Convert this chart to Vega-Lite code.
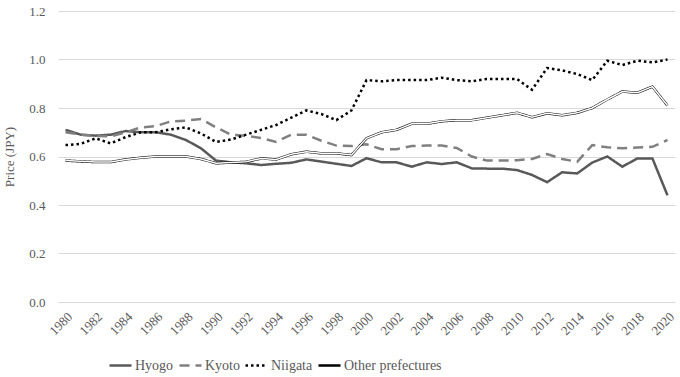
{
  "$schema": "https://vega.github.io/schema/vega-lite/v6.json",
  "autosize": {"type": "none"},
  "padding": {"left": 58, "top": 11, "right": 5, "bottom": 75},
  "width": 617,
  "height": 291,
  "background": "white",
  "config": {
    "view": {"stroke": null},
    "font": "Liberation Serif",
    "text": {"font": "Liberation Serif"},
    "axis": {"labelFont": "Liberation Serif", "titleFont": "Liberation Serif", "labelColor": "#595959", "titleColor": "#595959", "labelFontSize": 13, "titleFontSize": 13, "titleFontWeight": "normal"},
    "legend": {"labelFont": "Liberation Serif", "labelFontSize": 14, "labelColor": "#595959"}
  },
  "data": {"values": [
    {"year": 1980, "Hyogo": 0.71, "Kyoto": 0.70, "Niigata": 0.647, "Other prefectures": 0.583},
    {"year": 1981, "Hyogo": 0.69, "Kyoto": 0.69, "Niigata": 0.652, "Other prefectures": 0.58},
    {"year": 1982, "Hyogo": 0.686, "Kyoto": 0.685, "Niigata": 0.675, "Other prefectures": 0.577},
    {"year": 1983, "Hyogo": 0.69, "Kyoto": 0.683, "Niigata": 0.654, "Other prefectures": 0.577},
    {"year": 1984, "Hyogo": 0.705, "Kyoto": 0.70, "Niigata": 0.68, "Other prefectures": 0.588},
    {"year": 1985, "Hyogo": 0.70, "Kyoto": 0.72, "Niigata": 0.70, "Other prefectures": 0.595},
    {"year": 1986, "Hyogo": 0.70, "Kyoto": 0.725, "Niigata": 0.70, "Other prefectures": 0.60},
    {"year": 1987, "Hyogo": 0.69, "Kyoto": 0.745, "Niigata": 0.712, "Other prefectures": 0.60},
    {"year": 1988, "Hyogo": 0.668, "Kyoto": 0.748, "Niigata": 0.72, "Other prefectures": 0.60},
    {"year": 1989, "Hyogo": 0.634, "Kyoto": 0.755, "Niigata": 0.695, "Other prefectures": 0.59},
    {"year": 1990, "Hyogo": 0.583, "Kyoto": 0.72, "Niigata": 0.66, "Other prefectures": 0.572},
    {"year": 1991, "Hyogo": 0.576, "Kyoto": 0.69, "Niigata": 0.67, "Other prefectures": 0.575},
    {"year": 1992, "Hyogo": 0.572, "Kyoto": 0.685, "Niigata": 0.69, "Other prefectures": 0.578},
    {"year": 1993, "Hyogo": 0.565, "Kyoto": 0.676, "Niigata": 0.71, "Other prefectures": 0.592},
    {"year": 1994, "Hyogo": 0.57, "Kyoto": 0.66, "Niigata": 0.73, "Other prefectures": 0.588},
    {"year": 1995, "Hyogo": 0.574, "Kyoto": 0.69, "Niigata": 0.76, "Other prefectures": 0.609},
    {"year": 1996, "Hyogo": 0.588, "Kyoto": 0.69, "Niigata": 0.79, "Other prefectures": 0.62},
    {"year": 1997, "Hyogo": 0.579, "Kyoto": 0.665, "Niigata": 0.775, "Other prefectures": 0.613},
    {"year": 1998, "Hyogo": 0.57, "Kyoto": 0.645, "Niigata": 0.75, "Other prefectures": 0.613},
    {"year": 1999, "Hyogo": 0.561, "Kyoto": 0.643, "Niigata": 0.79, "Other prefectures": 0.606},
    {"year": 2000, "Hyogo": 0.593, "Kyoto": 0.65, "Niigata": 0.915, "Other prefectures": 0.675},
    {"year": 2001, "Hyogo": 0.576, "Kyoto": 0.63, "Niigata": 0.91, "Other prefectures": 0.70},
    {"year": 2002, "Hyogo": 0.576, "Kyoto": 0.63, "Niigata": 0.915, "Other prefectures": 0.71},
    {"year": 2003, "Hyogo": 0.558, "Kyoto": 0.643, "Niigata": 0.915, "Other prefectures": 0.735},
    {"year": 2004, "Hyogo": 0.576, "Kyoto": 0.645, "Niigata": 0.915, "Other prefectures": 0.735},
    {"year": 2005, "Hyogo": 0.569, "Kyoto": 0.645, "Niigata": 0.925, "Other prefectures": 0.745},
    {"year": 2006, "Hyogo": 0.576, "Kyoto": 0.635, "Niigata": 0.915, "Other prefectures": 0.75},
    {"year": 2007, "Hyogo": 0.551, "Kyoto": 0.60, "Niigata": 0.91, "Other prefectures": 0.75},
    {"year": 2008, "Hyogo": 0.55, "Kyoto": 0.583, "Niigata": 0.92, "Other prefectures": 0.76},
    {"year": 2009, "Hyogo": 0.55, "Kyoto": 0.583, "Niigata": 0.92, "Other prefectures": 0.77},
    {"year": 2010, "Hyogo": 0.544, "Kyoto": 0.585, "Niigata": 0.92, "Other prefectures": 0.78},
    {"year": 2011, "Hyogo": 0.524, "Kyoto": 0.59, "Niigata": 0.875, "Other prefectures": 0.762},
    {"year": 2012, "Hyogo": 0.494, "Kyoto": 0.61, "Niigata": 0.965, "Other prefectures": 0.778},
    {"year": 2013, "Hyogo": 0.535, "Kyoto": 0.59, "Niigata": 0.955, "Other prefectures": 0.77},
    {"year": 2014, "Hyogo": 0.53, "Kyoto": 0.578, "Niigata": 0.94, "Other prefectures": 0.78},
    {"year": 2015, "Hyogo": 0.575, "Kyoto": 0.647, "Niigata": 0.915, "Other prefectures": 0.80},
    {"year": 2016, "Hyogo": 0.60, "Kyoto": 0.638, "Niigata": 0.995, "Other prefectures": 0.835},
    {"year": 2017, "Hyogo": 0.558, "Kyoto": 0.634, "Niigata": 0.977, "Other prefectures": 0.868},
    {"year": 2018, "Hyogo": 0.592, "Kyoto": 0.637, "Niigata": 0.995, "Other prefectures": 0.863},
    {"year": 2019, "Hyogo": 0.592, "Kyoto": 0.64, "Niigata": 0.988, "Other prefectures": 0.888},
    {"year": 2020, "Hyogo": 0.44, "Kyoto": 0.668, "Niigata": 1.0, "Other prefectures": 0.81}
  ]},
  "transform": [{"fold": ["Hyogo", "Kyoto", "Niigata", "Other prefectures"], "as": ["series", "price"]}],
  "encoding": {
    "x": {"field": "year", "type": "ordinal", "title": null,
      "axis": {"values": [1980,1982,1984,1986,1988,1990,1992,1994,1996,1998,2000,2002,2004,2006,2008,2010,2012,2014,2016,2018,2020], "labelAngle": -45, "domain": false, "ticks": false, "labelPadding": 8, "labelFont": "Liberation Serif", "labelFontSize": 13}},
    "y": {"field": "price", "type": "quantitative", "title": "Price (JPY)",
      "scale": {"domain": [0, 1.2], "nice": false},
      "axis": {"values": [0, 0.2, 0.4, 0.6, 0.8, 1.0, 1.2], "format": ".1f", "domain": false, "ticks": false, "grid": true, "gridColor": "#d9d9d9", "gridWidth": 1, "labelPadding": 13, "titlePadding": 12, "labelFont": "Liberation Serif", "titleFont": "Liberation Serif", "labelFontSize": 13}}
  },
  "layer": [
    {
      "mark": {"type": "line", "strokeCap": "butt"},
      "encoding": {
        "color": {"field": "series", "type": "nominal", "scale": {"domain": ["Hyogo", "Kyoto", "Niigata", "Other prefectures"], "range": ["#595959", "#808080", "#000000", "#000000"]},
          "legend": {"title": null, "orient": "none", "legendX": 50, "legendY": 342, "direction": "horizontal", "gridAlign": "none", "symbolType": "stroke", "symbolSize": 484, "columnPadding": 0, "labelOffset": 2, "labelFont": "Liberation Serif", "labelFontSize": 14}},
        "strokeDash": {"field": "series", "type": "nominal", "scale": {"domain": ["Hyogo", "Kyoto", "Niigata", "Other prefectures"], "range": [[1, 0], [10, 6], [2.5, 3], [1, 0]]}},
        "strokeWidth": {"field": "series", "type": "nominal", "scale": {"domain": ["Hyogo", "Kyoto", "Niigata", "Other prefectures"], "range": [2.5, 2.5, 2.5, 4.5]}}
      }
    },
    {
      "transform": [{"filter": "datum.series === 'Other prefectures'"}],
      "mark": {"type": "line", "color": "white", "strokeWidth": 1.5},
      "encoding": {}
    }
  ]
}
